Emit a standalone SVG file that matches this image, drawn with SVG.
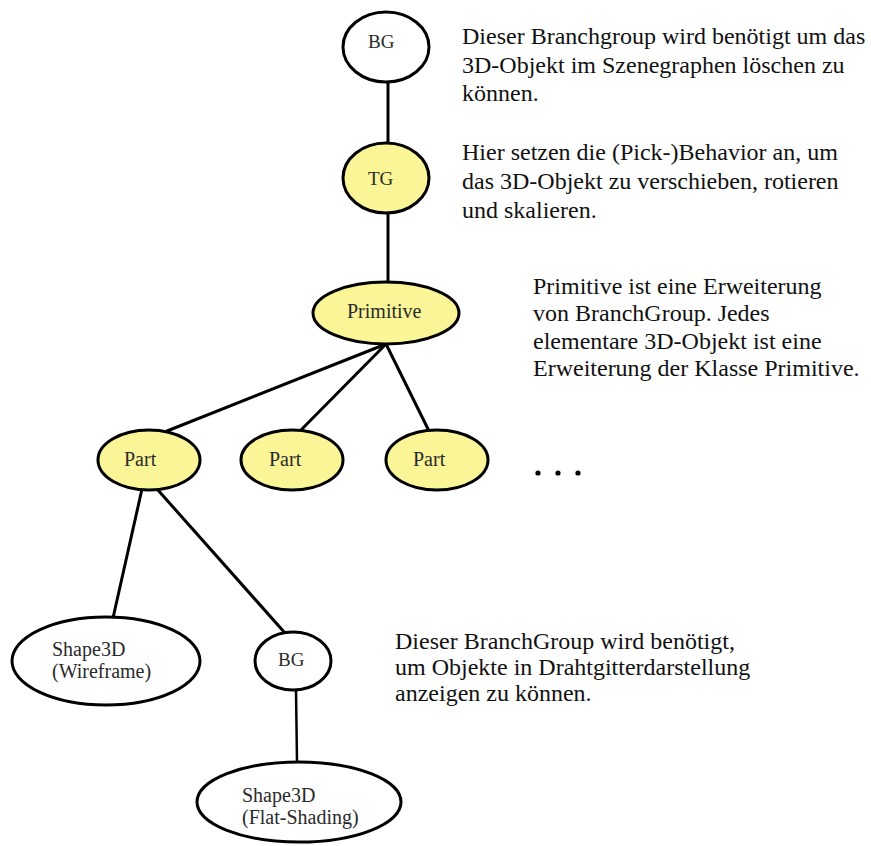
<svg xmlns="http://www.w3.org/2000/svg" width="871" height="846" viewBox="0 0 871 846">
<style>
  .node { stroke: #000; stroke-width: 3; }
  .yellow { fill: #FAF597; }
  .white { fill: #FFFFFF; }
  .lbl { font-family: "Liberation Serif", "Times New Roman", serif; font-size: 19px; fill: #2a2a2a; }
  .lbl20 { font-family: "Liberation Serif", "Times New Roman", serif; font-size: 20px; fill: #2a2a2a; }
  .para { font-family: "Liberation Serif", "Times New Roman", serif; font-size: 24px; fill: #111; }
  .conn line { stroke: #000; stroke-width: 3; stroke-linecap: round; }
</style>
<rect width="871" height="846" fill="#FFFFFF"/>

<g id="connectors" class="conn">
  <line x1="388" y1="83" x2="388" y2="143"/>
  <line x1="388" y1="213" x2="388" y2="283"/>
  <line x1="386" y1="344" x2="167" y2="431"/>
  <line x1="386" y1="344" x2="300" y2="431"/>
  <line x1="386" y1="344" x2="429" y2="431"/>
  <line x1="142" y1="489" x2="113" y2="618"/>
  <line x1="157" y1="489" x2="285" y2="633"/>
  <line x1="296" y1="690" x2="297" y2="762" style="stroke-width:2.5"/>
</g>

<g id="bg-top">
  <ellipse class="node white" cx="386" cy="47" rx="43" ry="35"/>
  <text class="lbl" x="368" y="48">BG</text>
</g>
<g id="tg">
  <ellipse class="node yellow" cx="386" cy="178" rx="43" ry="35"/>
  <text class="lbl" x="368" y="185">TG</text>
</g>
<g id="primitive">
  <ellipse class="node yellow" cx="386" cy="313" rx="73" ry="31"/>
  <text class="lbl20" x="347" y="318">Primitive</text>
</g>
<g id="part1">
  <ellipse class="node yellow" cx="149" cy="460" rx="51" ry="30"/>
  <text class="lbl20" x="124" y="466">Part</text>
</g>
<g id="part2">
  <ellipse class="node yellow" cx="292" cy="460" rx="51" ry="30"/>
  <text class="lbl20" x="269" y="466">Part</text>
</g>
<g id="part3">
  <ellipse class="node yellow" cx="437" cy="460" rx="51" ry="30"/>
  <text class="lbl20" x="413" y="466">Part</text>
</g>
<g id="dots">
  <circle cx="538" cy="473" r="2.6" fill="#000"/>
  <circle cx="558" cy="473" r="2.6" fill="#000"/>
  <circle cx="578" cy="473" r="2.6" fill="#000"/>
</g>
<g id="shape3d-wireframe">
  <ellipse class="node white" cx="106" cy="661" rx="94" ry="44"/>
  <text class="lbl20" x="52" y="656">Shape3D</text>
  <text class="lbl20" x="52" y="678">(Wireframe)</text>
</g>
<g id="bg-bottom">
  <ellipse class="node white" cx="293" cy="661" rx="38" ry="29"/>
  <text class="lbl" x="278" y="666">BG</text>
</g>
<g id="shape3d-flat">
  <ellipse class="node white" cx="299" cy="802" rx="102" ry="40"/>
  <text class="lbl20" x="242" y="802">Shape3D</text>
  <text class="lbl20" x="242" y="824">(Flat-Shading)</text>
</g>

<g id="note-bg">
  <text class="para" x="462" y="44">Dieser Branchgroup wird benötigt um das</text>
  <text class="para" x="462" y="73">3D-Objekt im Szenegraphen löschen zu</text>
  <text class="para" x="462" y="101">können.</text>
</g>
<g id="note-tg">
  <text class="para" x="462" y="160">Hier setzen die (Pick-)Behavior an, um</text>
  <text class="para" x="462" y="189">das 3D-Objekt zu verschieben, rotieren</text>
  <text class="para" x="462" y="218">und skalieren.</text>
</g>
<g id="note-primitive">
  <text class="para" x="533" y="294">Primitive ist eine Erweiterung</text>
  <text class="para" x="533" y="321">von BranchGroup. Jedes</text>
  <text class="para" x="533" y="349">elementare 3D-Objekt ist eine</text>
  <text class="para" x="533" y="376">Erweiterung der Klasse Primitive.</text>
</g>
<g id="note-bg2">
  <text class="para" x="395" y="649">Dieser BranchGroup wird benötigt,</text>
  <text class="para" x="395" y="675">um Objekte in Drahtgitterdarstellung</text>
  <text class="para" x="395" y="701">anzeigen zu können.</text>
</g>
</svg>
